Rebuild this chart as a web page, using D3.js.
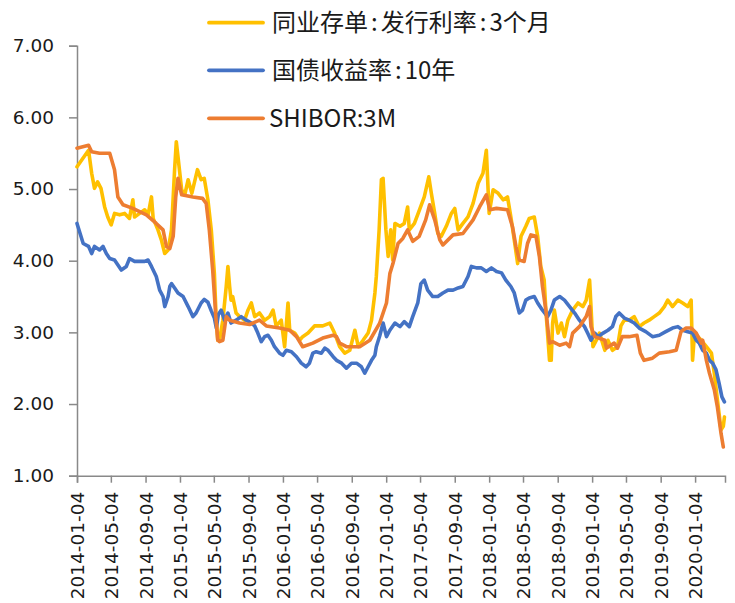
<!DOCTYPE html>
<html><head><meta charset="utf-8">
<script src="https://cdn.jsdelivr.net/npm/d3@7"></script>
<style>
html,body{margin:0;padding:0;background:#fff;}
svg{display:block;}
</style></head>
<body><svg id="c" width="735" height="603"></svg>
<script>
const seriesNames = ["同业存单:发行利率:3个月", "国债收益率:10年", "SHIBOR:3M"];
const seriesColors = ["#FFC000", "#4472C4", "#ED7D31"];

const cdDates = ["2014-01-04","2014-02-14","2014-02-25","2014-03-07","2014-03-18","2014-03-30","2014-04-12","2014-04-23","2014-05-05","2014-05-17","2014-06-04","2014-06-22","2014-07-09","2014-07-21","2014-07-27","2014-08-14","2014-09-01","2014-09-13","2014-09-25","2014-10-01","2014-10-18","2014-10-30","2014-11-11","2014-11-23","2014-12-05","2014-12-16","2014-12-22","2014-12-28","2015-01-10","2015-01-21","2015-02-02","2015-02-15","2015-03-07","2015-03-20","2015-03-31","2015-04-13","2015-04-25","2015-05-06","2015-05-12","2015-05-18","2015-05-24","2015-06-05","2015-06-17","2015-06-23","2015-06-29","2015-07-04","2015-07-10","2015-07-22","2015-08-03","2015-08-21","2015-09-02","2015-09-14","2015-09-26","2015-10-13","2015-10-31","2015-11-18","2015-11-30","2015-12-11","2015-12-29","2016-01-10","2016-01-22","2016-01-28","2016-02-15","2016-03-03","2016-03-14","2016-04-02","2016-04-25","2016-05-24","2016-06-18","2016-07-05","2016-07-23","2016-08-10","2016-08-28","2016-09-15","2016-09-27","2016-10-14","2016-11-01","2016-11-13","2016-11-25","2016-11-30","2016-12-10","2016-12-18","2016-12-24","2017-01-03","2017-01-11","2017-01-20","2017-01-27","2017-02-04","2017-02-22","2017-03-09","2017-03-21","2017-03-27","2017-04-14","2017-05-02","2017-05-19","2017-06-04","2017-06-13","2017-06-25","2017-07-06","2017-07-18","2017-08-05","2017-08-23","2017-09-04","2017-09-16","2017-10-03","2017-10-21","2017-11-08","2017-11-26","2017-12-13","2017-12-25","2018-01-04","2018-01-18","2018-02-05","2018-02-23","2018-03-10","2018-03-22","2018-04-03","2018-04-15","2018-04-27","2018-05-14","2018-05-26","2018-06-13","2018-06-25","2018-07-06","2018-07-18","2018-07-24","2018-08-06","2018-08-12","2018-08-17","2018-08-23","2018-09-05","2018-09-17","2018-09-28","2018-10-10","2018-10-27","2018-11-15","2018-12-02","2018-12-14","2018-12-26","2018-12-31","2019-01-07","2019-01-19","2019-01-30","2019-02-18","2019-03-01","2019-03-17","2019-04-04","2019-04-16","2019-04-28","2019-05-15","2019-06-02","2019-06-20","2019-07-07","2019-07-25","2019-08-12","2019-08-30","2019-09-17","2019-09-29","2019-10-16","2019-11-04","2019-11-21","2019-12-09","2019-12-21","2019-12-26","2020-01-02","2020-01-14","2020-01-26","2020-02-13","2020-03-02","2020-03-12","2020-03-23","2020-04-05","2020-04-13","2020-04-17"];
const cdValues = [5.31,5.54,5.22,5.01,5.10,5.01,4.75,4.61,4.50,4.66,4.64,4.66,4.59,4.85,4.61,4.66,4.71,4.64,4.89,4.59,4.43,4.29,4.10,4.15,4.43,5.27,5.66,5.45,4.99,4.92,5.13,4.94,5.27,5.13,5.15,4.85,4.43,3.82,3.22,2.89,2.89,3.17,3.64,3.92,3.64,3.45,3.50,3.27,3.22,3.17,3.31,3.41,3.22,3.27,3.17,3.22,3.31,3.09,3.17,2.80,3.41,3.03,2.99,2.89,2.94,2.99,3.09,3.09,3.13,2.99,2.80,2.71,2.75,3.03,2.80,2.89,2.99,3.17,3.55,3.78,4.43,5.13,5.15,4.43,4.06,4.43,4.01,4.52,4.48,4.52,4.75,4.43,4.52,4.71,4.89,5.17,4.94,4.66,4.38,4.34,4.48,4.66,4.73,4.43,4.52,4.61,4.80,5.08,5.22,5.54,4.66,4.99,4.94,4.85,4.89,4.61,4.29,3.96,4.34,4.48,4.59,4.61,4.34,3.92,3.73,3.31,2.61,2.61,3.13,3.31,2.99,3.13,2.94,3.17,3.31,3.41,3.36,3.45,3.73,3.36,2.80,2.89,2.99,2.75,2.89,2.75,2.80,3.09,3.17,3.17,3.22,3.08,3.13,3.17,3.22,3.27,3.36,3.45,3.36,3.45,3.41,3.36,3.45,2.61,2.99,2.94,2.89,2.80,2.71,2.43,2.06,1.64,1.69,1.82];

const bondDates = ["2014-01-04","2014-01-15","2014-01-26","2014-02-14","2014-02-25","2014-03-07","2014-03-25","2014-04-06","2014-04-18","2014-04-30","2014-05-17","2014-05-29","2014-06-10","2014-06-28","2014-07-09","2014-07-27","2014-08-14","2014-09-01","2014-09-13","2014-09-25","2014-10-12","2014-10-24","2014-11-05","2014-11-11","2014-11-23","2014-11-29","2014-12-05","2014-12-16","2014-12-28","2015-01-15","2015-02-02","2015-02-19","2015-03-02","2015-03-20","2015-03-31","2015-04-13","2015-04-25","2015-05-06","2015-05-13","2015-05-20","2015-05-30","2015-06-11","2015-06-23","2015-07-04","2015-07-22","2015-08-09","2015-08-27","2015-09-14","2015-09-26","2015-10-07","2015-10-19","2015-10-31","2015-11-12","2015-11-24","2015-12-05","2015-12-23","2016-01-04","2016-01-16","2016-02-03","2016-02-21","2016-03-09","2016-03-26","2016-04-07","2016-04-19","2016-05-01","2016-05-19","2016-05-31","2016-06-12","2016-06-30","2016-07-12","2016-07-30","2016-08-16","2016-09-03","2016-09-21","2016-10-08","2016-10-20","2016-11-01","2016-11-13","2016-11-25","2016-11-30","2016-12-12","2016-12-24","2017-01-05","2017-01-17","2017-02-04","2017-02-22","2017-03-09","2017-03-27","2017-04-08","2017-04-26","2017-05-07","2017-05-19","2017-05-31","2017-06-18","2017-07-06","2017-07-24","2017-08-11","2017-08-29","2017-09-16","2017-10-03","2017-10-21","2017-11-02","2017-11-20","2017-12-07","2017-12-25","2018-01-12","2018-01-30","2018-02-17","2018-03-04","2018-03-22","2018-04-03","2018-04-15","2018-04-21","2018-05-02","2018-05-14","2018-05-26","2018-06-13","2018-06-25","2018-07-12","2018-07-30","2018-08-11","2018-08-23","2018-09-11","2018-09-28","2018-10-16","2018-11-03","2018-11-20","2018-12-08","2018-12-19","2018-12-31","2019-01-13","2019-01-25","2019-02-12","2019-03-01","2019-03-17","2019-03-29","2019-04-10","2019-04-28","2019-05-15","2019-06-02","2019-06-20","2019-07-13","2019-08-06","2019-08-30","2019-09-22","2019-10-16","2019-11-04","2019-11-21","2019-12-09","2019-12-26","2020-01-08","2020-01-19","2020-01-31","2020-02-13","2020-02-24","2020-03-06","2020-03-18","2020-03-29","2020-04-08","2020-04-17"];
const bondValues = [4.52,4.38,4.24,4.20,4.10,4.20,4.15,4.20,4.10,4.03,4.01,3.94,3.87,3.92,4.03,3.99,3.99,3.99,4.01,3.92,3.78,3.59,3.50,3.36,3.50,3.64,3.68,3.62,3.55,3.50,3.36,3.22,3.27,3.41,3.46,3.42,3.30,3.20,3.06,3.25,3.31,3.17,3.27,3.13,3.17,3.22,3.17,3.13,3.09,2.99,2.87,2.94,2.96,2.89,2.80,2.71,2.68,2.75,2.73,2.66,2.57,2.52,2.57,2.71,2.73,2.71,2.78,2.75,2.66,2.61,2.57,2.50,2.57,2.57,2.52,2.43,2.52,2.61,2.68,2.80,2.95,3.13,2.94,3.03,3.13,3.08,3.15,3.08,3.22,3.41,3.68,3.73,3.59,3.50,3.50,3.55,3.59,3.59,3.62,3.64,3.78,3.92,3.90,3.90,3.85,3.90,3.85,3.83,3.73,3.64,3.55,3.36,3.27,3.31,3.45,3.48,3.50,3.41,3.31,3.22,3.31,3.45,3.50,3.45,3.36,3.27,3.17,3.08,2.99,2.89,2.99,2.94,2.99,3.03,3.08,3.22,3.27,3.20,3.17,3.13,3.06,3.01,2.94,2.96,3.01,3.06,3.08,3.03,3.01,2.99,2.89,2.85,2.75,2.71,2.61,2.57,2.48,2.29,2.10,2.03];

const shiborDates = ["2014-01-04","2014-02-14","2014-02-25","2014-03-25","2014-04-30","2014-05-17","2014-05-29","2014-06-16","2014-07-21","2014-09-07","2014-10-12","2014-11-05","2014-11-17","2014-11-29","2014-12-11","2014-12-20","2014-12-28","2015-01-10","2015-02-19","2015-03-25","2015-04-07","2015-04-18","2015-04-30","2015-05-12","2015-05-18","2015-05-24","2015-06-05","2015-06-17","2015-06-29","2015-08-03","2015-09-08","2015-10-13","2015-11-06","2015-12-23","2016-01-28","2016-02-21","2016-03-14","2016-04-19","2016-05-24","2016-06-30","2016-07-12","2016-07-23","2016-08-16","2016-10-02","2016-11-07","2016-12-12","2017-01-05","2017-01-17","2017-01-28","2017-02-15","2017-03-04","2017-03-21","2017-04-08","2017-05-01","2017-05-24","2017-06-07","2017-06-25","2017-07-13","2017-07-24","2017-08-29","2017-10-03","2017-11-08","2017-12-01","2017-12-25","2018-01-06","2018-01-30","2018-03-10","2018-03-28","2018-04-09","2018-04-21","2018-05-08","2018-05-20","2018-06-01","2018-06-19","2018-07-01","2018-07-12","2018-07-24","2018-08-06","2018-08-17","2018-09-11","2018-10-04","2018-10-16","2018-10-27","2018-11-20","2018-12-14","2018-12-26","2018-12-31","2019-01-13","2019-02-18","2019-02-24","2019-03-11","2019-03-23","2019-04-04","2019-04-21","2019-05-15","2019-06-12","2019-06-24","2019-07-07","2019-08-06","2019-08-30","2019-10-05","2019-10-29","2019-11-15","2019-12-03","2019-12-21","2020-01-08","2020-01-26","2020-01-31","2020-02-13","2020-02-24","2020-03-12","2020-03-23","2020-04-05","2020-04-13"];
const shiborValues = [5.57,5.61,5.52,5.50,5.50,5.27,4.89,4.78,4.73,4.64,4.52,4.43,4.20,4.17,4.34,4.89,5.15,4.92,4.89,4.87,4.80,4.43,3.87,3.17,2.89,2.87,2.89,3.22,3.17,3.13,3.11,3.17,3.09,3.06,3.03,2.94,2.80,2.85,2.92,2.96,2.94,2.85,2.80,2.80,2.89,3.13,3.41,3.82,3.96,4.24,4.31,4.43,4.27,4.34,4.57,4.78,4.57,4.29,4.22,4.36,4.38,4.57,4.75,4.92,4.71,4.73,4.71,4.47,4.20,4.01,3.99,4.24,4.36,4.34,4.06,3.64,3.31,2.85,2.87,2.82,2.85,2.80,2.99,3.08,3.22,3.36,3.08,2.94,2.89,2.78,2.82,2.85,2.78,2.94,2.94,2.96,2.71,2.61,2.64,2.71,2.73,2.75,3.01,3.06,3.06,2.99,2.85,2.89,2.61,2.43,2.20,1.96,1.59,1.40];

const xTickLabels = ["2014-01-04","2014-05-04","2014-09-04","2015-01-04","2015-05-04","2015-09-04","2016-01-04","2016-05-04","2016-09-04","2017-01-04","2017-05-04","2017-09-04","2018-01-04","2018-05-04","2018-09-04","2019-01-04","2019-05-04","2019-09-04","2020-01-04"];
const yTicks = [1, 2, 3, 4, 5, 6, 7];
const xDomain = ["2014-01-04", "2020-04-19"];

(function () {
const parse = d3.timeParse("%Y-%m-%d");
const svg = d3.select("#c");
const plotLeft = 77, plotRight = 725, plotTop = 45.7, plotBottom = 475.7;
const axisColor = "#898989";
const font = "'DejaVu Sans', sans-serif";

const x = d3.scaleTime().domain(xDomain.map(parse)).range([plotLeft, plotRight]);
const y = d3.scaleLinear().domain([1, 7]).range([plotBottom, plotTop]);

// Y axis
const yAxis = svg.append("g").attr("transform", `translate(${plotLeft},0)`)
  .call(d3.axisLeft(y).tickValues(yTicks).tickFormat(d3.format(".2f")).tickSizeOuter(0).tickSize(8).tickPadding(15));
yAxis.select(".domain").attr("stroke", axisColor).attr("stroke-width", 1.5);
yAxis.selectAll(".tick line").attr("stroke", axisColor).attr("stroke-width", 1.5);
yAxis.selectAll(".tick text").attr("fill", "#1a1a1a").style("font-family", font).style("font-size", "18.5px");

// X axis
const xAxis = svg.append("g").attr("transform", `translate(0,${plotBottom})`)
  .call(d3.axisBottom(x).tickValues(xTickLabels.map(parse)).tickFormat(d3.timeFormat("%Y-%m-%d")).tickSizeOuter(0).tickSize(7));
xAxis.select(".domain").attr("stroke", axisColor).attr("stroke-width", 1.5);
xAxis.selectAll(".tick line").attr("stroke", axisColor).attr("stroke-width", 1.5);
xAxis.selectAll(".tick text")
  .attr("fill", "#1a1a1a").style("font-family", font).style("font-size", "18.5px")
  .attr("transform", "rotate(-90)")
  .attr("text-anchor", "end").attr("dy", "0.35em").attr("x", -16).attr("y", 0);

// Lines
const series = [
  {dates: cdDates, values: cdValues},
  {dates: bondDates, values: bondValues},
  {dates: shiborDates, values: shiborValues}
];
const line = d3.line().x(d => x(d[0])).y(d => y(d[1]));
series.forEach((s, i) => {
  const n = Math.min(s.dates.length, s.values.length);
  const pts = s.dates.slice(0, n).map((d, j) => [parse(d), s.values[j]]);
  svg.append("path").datum(pts).attr("d", line)
    .attr("fill", "none").attr("stroke", seriesColors[i])
    .attr("stroke-width", 3.6).attr("stroke-linejoin", "round").attr("stroke-linecap", "round");
});

// Legend
const legY = [22.7, 70.3, 118.3];
const leg = svg.append("g");
seriesNames.forEach((n, i) => {
  leg.append("line").attr("x1", 209).attr("x2", 263).attr("y1", legY[i]).attr("y2", legY[i])
    .attr("stroke", seriesColors[i]).attr("stroke-width", 3.8).attr("stroke-linecap", "round");
  const t = leg.append("text").attr("x", 269).attr("y", legY[i]).attr("dy", "0.36em")
    .attr("fill", "#1a1a1a")
    .style("font-family", "'Noto Sans CJK SC', sans-serif").style("font-size", "24px");
  // widen the ASCII colons slightly as in the reference's font
  n.split(/(:)/).forEach(part => {
    if (part === ":") t.append("tspan").attr("dx", i === 2 ? 0 : 3).text(part);
    else if (part.length) t.append("tspan").attr("dx", (i === 2 || t.selectAll("tspan").size() === 0) ? 0 : 3).text(part);
  });
});
})();
</script></body></html>
